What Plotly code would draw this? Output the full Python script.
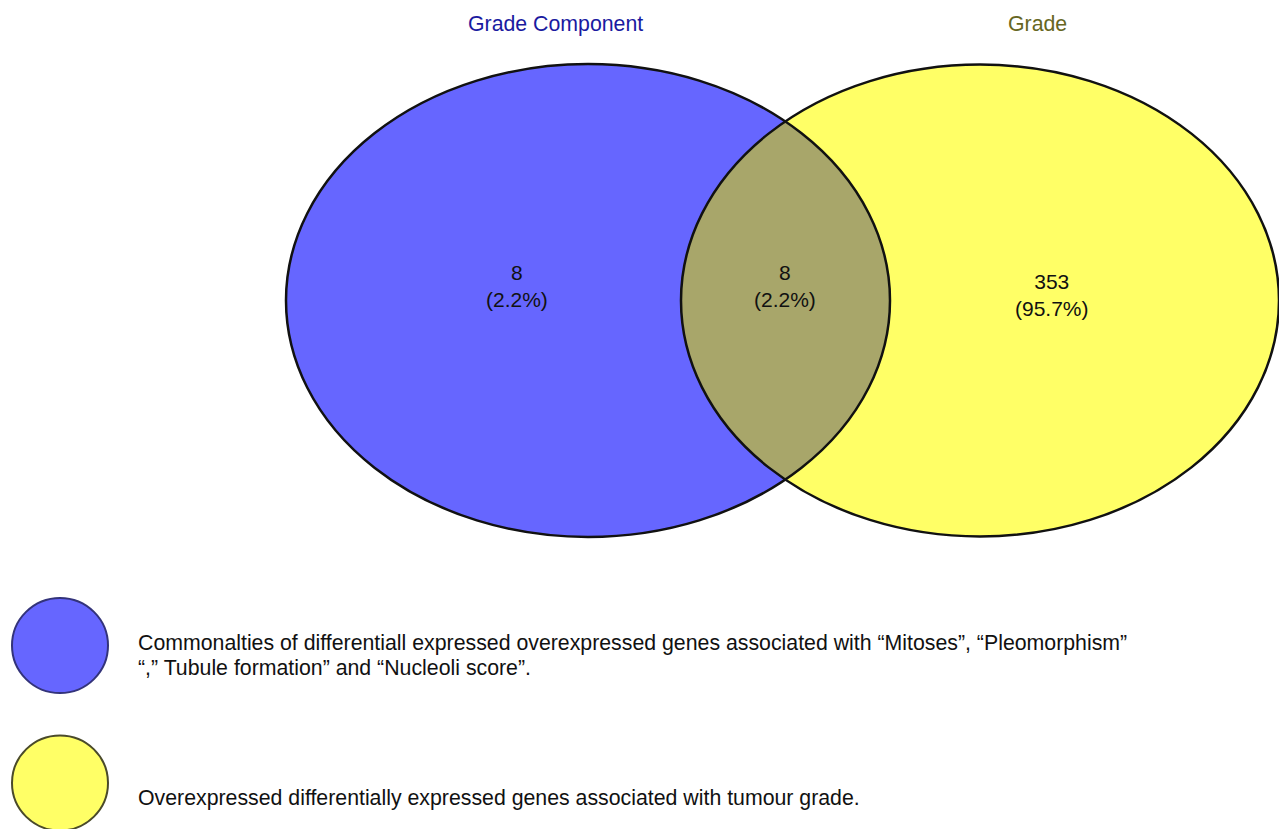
import numpy as np
import plotly.graph_objects as go

# ---- data ----
set_names = ["Grade Component", "Grade"]
region_counts = [8, 8, 353]          # only Grade Component, both, only Grade
region_percents = [2.2, 2.2, 95.7]
legend_texts = [
    "Commonalties of differentiall expressed overexpressed genes associated with \u201cMitoses\u201d, \u201cPleomorphism\u201d<br>\u201c,\u201d Tubule formation\u201d and \u201cNucleoli score\u201d.",
    "Overexpressed differentially expressed genes associated with tumour grade.",
]

# ---- style / layout ----
W, H = 1279, 829
set_fill = ["#6666FF", "#FFFF66"]
overlap_fill = "#A8A66A"
title_colors = ["#1A1AA0", "#666622"]
legend_edge = ["#33337A", "#4A4A2A"]
FONT = "Liberation Sans, Arial, Helvetica, sans-serif"

# ellipse geometry (pixel space: x right, y down)
ell = [dict(cx=588, cy=300.5, rx=302, ry=236.5),
       dict(cx=980, cy=300.5, rx=299, ry=236.0)]

fig = go.Figure()
shapes = []

# fills
for e, c in zip(ell, set_fill):
    shapes.append(dict(type="circle", xref="x", yref="y",
                       x0=e["cx"] - e["rx"], x1=e["cx"] + e["rx"],
                       y0=e["cy"] - e["ry"], y1=e["cy"] + e["ry"],
                       fillcolor=c, line=dict(width=0), layer="above"))

# lens (intersection) path
def inside(e, x, y):
    return ((x - e["cx"]) / e["rx"]) ** 2 + ((y - e["cy"]) / e["ry"]) ** 2 <= 1.0

t = np.linspace(0, 2 * np.pi, 1441)
A, B = ell
ax = A["cx"] + A["rx"] * np.cos(t); ay = A["cy"] + A["ry"] * np.sin(t)
bx = B["cx"] + B["rx"] * np.cos(t); by = B["cy"] + B["ry"] * np.sin(t)
ma = inside(B, ax, ay)
mb = inside(A, bx, by)
pa = sorted(zip(ax[ma], ay[ma]), key=lambda p: p[1])
pb = sorted(zip(bx[mb], by[mb]), key=lambda p: -p[1])
pts = pa + pb
path = "M " + " L ".join(f"{x:.2f},{y:.2f}" for x, y in pts) + " Z"
shapes.append(dict(type="path", xref="x", yref="y", path=path,
                   fillcolor=overlap_fill, line=dict(width=0), layer="above"))

# outlines
for e in ell:
    shapes.append(dict(type="circle", xref="x", yref="y",
                       x0=e["cx"] - e["rx"], x1=e["cx"] + e["rx"],
                       y0=e["cy"] - e["ry"], y1=e["cy"] + e["ry"],
                       fillcolor="rgba(0,0,0,0)", line=dict(color="#111111", width=2.5),
                       layer="above"))

# legend circles
leg_cy = [645.5, 783]
for cy, c, ec in zip(leg_cy, set_fill, legend_edge):
    shapes.append(dict(type="circle", xref="x", yref="y",
                       x0=12, x1=108, y0=cy - 47.5, y1=cy + 47.5,
                       fillcolor=c, line=dict(color=ec, width=2), layer="above"))

annotations = []
# set titles
for name, x, col in zip(set_names, [555, 1037], title_colors):
    annotations.append(dict(x=x, y=24, xref="x", yref="y", text=name, showarrow=False,
                            font=dict(family=FONT, size=21.3, color=col),
                            xanchor="center", yanchor="middle"))
# region labels
region_xy = [(517, 286), (785, 286), (1052, 295)]
for (x, y), n, p in zip(region_xy, region_counts, region_percents):
    annotations.append(dict(x=x, y=y, xref="x", yref="y",
                            text=f"{n}<br>({p}%)", showarrow=False,
                            font=dict(family=FONT, size=21, color="#111111"),
                            xanchor="center", yanchor="middle"))
# legend texts (each line placed separately to match line spacing)
legend_y0 = [643, 798]
for y0, txt in zip(legend_y0, legend_texts):
    for i, line in enumerate(txt.split("<br>")):
        annotations.append(dict(x=136, y=y0 + 25 * i, xref="x", yref="y", text=line,
                                showarrow=False,
                                font=dict(family=FONT, size=21.3, color="#111111"),
                                xanchor="left", yanchor="middle", align="left"))

fig.update_layout(
    width=W, height=H,
    margin=dict(l=0, r=0, t=0, b=0),
    paper_bgcolor="white", plot_bgcolor="white",
    showlegend=False,
    shapes=shapes, annotations=annotations,
    xaxis=dict(range=[0, W], visible=False, fixedrange=True),
    yaxis=dict(range=[H, 0], visible=False, fixedrange=True),
)

fig.write_html("out.html", include_plotlyjs=True,
               config=dict(displayModeBar=False),
               post_script="document.body.style.margin='0';document.body.style.overflow='hidden';")
